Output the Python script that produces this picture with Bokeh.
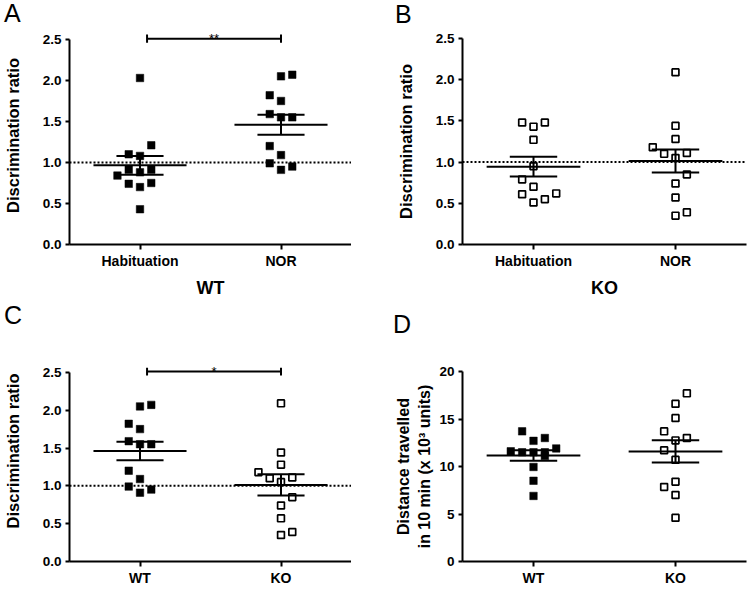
import numpy as np
from bokeh.plotting import figure
from bokeh.layouts import column, row
from bokeh.models import Range1d, FixedTicker, Span, PrintfTickFormatter, Div
from bokeh.embed import file_html
from bokeh.resources import INLINE

# ---------------- data ----------------
test_groups = ["Habituation", "NOR"]
genotypes = ["WT", "KO"]

wt_hab = [2.03, 1.10, 1.21, 1.08, 0.91, 0.88, 0.91, 0.84, 0.74, 0.75, 0.70, 0.43]
wt_hab_slot = [0, -1, 1, 0, -1, 0, 1, -2, -1, 1, 0, 0]
wt_nor = [2.05, 2.07, 1.82, 1.75, 1.59, 1.55, 1.55, 1.20, 1.09, 0.99, 0.91, 0.95]
wt_nor_slot = [0, 1, -1, 0, -1, 0, 1, -1, 0, -1, 0, 1]
ko_hab = [1.48, 1.43, 1.48, 1.27, 0.95, 0.79, 0.70, 0.61, 0.62, 0.55, 0.51]
ko_hab_slot = [-1, 0, 1, 0, 0, -1, 0, -1, 2, 1, 0]
ko_nor = [2.09, 1.44, 1.28, 1.18, 1.10, 1.11, 1.05, 0.85, 0.74, 0.57, 0.39, 0.35]
ko_nor_slot = [0, 0, 0, -2, -1, 1, 0, 1, 0, 0, 1, 0]
dist_wt = [13.7, 12.7, 13.0, 11.6, 11.5, 11.5, 11.5, 11.9, 11.1, 9.95, 8.5, 6.9]
dist_wt_slot = [-1, 0, 1, -2, -1, 0, 1, 2, 1, 0, 0, 0]
dist_ko = [17.7, 16.6, 15.1, 13.7, 13.0, 12.75, 11.7, 10.7, 8.4, 7.85, 7.0, 4.6]
dist_ko_slot = [1, 0, 0, -1, 1, 0, -1, 0, 0, -1, 0, 0]

ratio_ticks = [0.0, 0.5, 1.0, 1.5, 2.0, 2.5]
dist_ticks = [0, 5, 10, 15, 20]

FONT = "Liberation Sans"
SLOT = 0.08
MEAN_HALF = 0.33
SEM_HALF = 0.167


def letter_div(text, width, height, mtop, mleft):
    html = ('<div style="font-family:\'Liberation Sans\',Arial,sans-serif;font-size:25px;'
            'line-height:25px;color:black;margin:%dpx 0 0 %dpx;padding:0;">%s</div>'
            % (mtop, mleft, text))
    return Div(text=html, width=width, height=height, margin=0)


def make_panel(cats, series, y_end, axis_top, ticks, fmt, ylabel, ylabel_standoff,
               xlabel, width, height, borders, bracket=None, refline=True):
    p = figure(width=width, height=height, title=None, toolbar_location=None,
               output_backend="svg", x_range=Range1d(0.5, 2.5), y_range=Range1d(0, y_end),
               min_border_left=borders[0], min_border_right=borders[1],
               min_border_top=borders[2], min_border_bottom=borders[3])
    p.outline_line_color = None
    p.grid.visible = False
    p.background_fill_color = "white"

    p.xaxis.ticker = FixedTicker(ticks=[1, 2])
    p.xaxis.major_label_overrides = {1: cats[0], 2: cats[1]}
    p.yaxis.ticker = FixedTicker(ticks=ticks)
    if fmt:
        p.yaxis.formatter = PrintfTickFormatter(format=fmt)
    p.yaxis.bounds = (0, axis_top)
    for ax in (p.xaxis[0], p.yaxis[0]):
        ax.axis_line_width = 2
        ax.axis_line_color = "black"
        ax.major_tick_line_width = 2
        ax.major_tick_line_color = "black"
        ax.major_tick_in = 0
        ax.minor_tick_line_color = None
        ax.major_label_text_font = FONT
        ax.major_label_text_font_style = "bold"
        ax.major_label_text_color = "black"
        ax.axis_label_text_font = FONT
        ax.axis_label_text_font_style = "bold"
        ax.axis_label_text_color = "black"
    p.xaxis.major_tick_out = 5
    p.yaxis.major_tick_out = 4
    p.xaxis.major_label_standoff = 3
    p.yaxis.major_label_standoff = 4
    p.xaxis.major_label_text_font_size = "14px"
    p.yaxis.major_label_text_font_size = "13.5px"
    p.yaxis.axis_label = ylabel
    p.yaxis.axis_label_text_font_size = "16.5px" if "\n" not in ylabel else "16px"
    p.yaxis.axis_label_text_line_height = 1.25
    p.yaxis.axis_label_standoff = ylabel_standoff
    if xlabel:
        p.xaxis.axis_label = xlabel
        p.xaxis.axis_label_text_font_size = "18px"
        p.xaxis.axis_label_standoff = 6

    if refline:
        p.add_layout(Span(location=1.0, dimension="width", line_color="black",
                          line_width=2, line_dash="2 2", level="underlay"))

    for i, (vals, slots, filled) in enumerate(series):
        c = i + 1
        xs = [c + s * SLOT for s in slots]
        if filled:
            p.scatter(xs, vals, marker="square", size=7.5, fill_color="black",
                      line_color="black", line_width=0.5)
        else:
            p.scatter(xs, vals, marker="square", size=6.8, fill_color=None,
                      line_color="black", line_width=1.7)
        arr = np.asarray(vals, dtype=float)
        m = arr.mean()
        sem = arr.std(ddof=1) / np.sqrt(arr.size)
        p.segment(x0=[c - MEAN_HALF, c - SEM_HALF, c - SEM_HALF, c],
                  y0=[m, m + sem, m - sem, m - sem],
                  x1=[c + MEAN_HALF, c + SEM_HALF, c + SEM_HALF, c],
                  y1=[m, m + sem, m - sem, m + sem],
                  line_color="black", line_width=2)

    if bracket:
        text, yb, x_left, x_right = bracket
        p.segment(x0=[x_left, x_left, x_right], y0=[yb, yb - 0.05, yb - 0.05],
                  x1=[x_right, x_left, x_right], y1=[yb, yb + 0.05, yb + 0.05],
                  line_color="black", line_width=2)
        p.text(x=[(x_left + x_right) / 2], y=[yb + 0.005], text=[text],
               text_align="center", text_baseline="alphabetic",
               text_font_size="13px", text_color="black")
    return p


W_LEFT, W_RIGHT = 351, 397
TOP_DIV_H, TOP_FIG_H, MID_DIV_H, BOT_FIG_H = 26, 276, 38, 248

pA = make_panel(test_groups,
                [(wt_hab, wt_hab_slot, True), (wt_nor, wt_nor_slot, True)],
                2.658, 2.5, ratio_ticks, "%.1f", "Discrimination ratio", 18, "WT",
                W_LEFT, TOP_FIG_H, (68, 0, 0, 58), bracket=("**", 2.51, 1.05, 2.0))
pB = make_panel(test_groups,
                [(ko_hab, ko_hab_slot, False), (ko_nor, ko_nor_slot, False)],
                2.5, 2.5, ratio_ticks, "%.1f", "Discrimination ratio", 18, "KO",
                W_RIGHT, TOP_FIG_H, (111, 2, 12, 58))
pC = make_panel(genotypes,
                [(wt_nor, wt_nor_slot, True), (ko_nor, ko_nor_slot, False)],
                2.921, 2.5, ratio_ticks, "%.1f", "Discrimination ratio", 18, None,
                W_LEFT, BOT_FIG_H, (68, 0, 0, 26), bracket=("*", 2.51, 1.05, 2.0))
pD = make_panel(genotypes,
                [(dist_wt, dist_wt_slot, True), (dist_ko, dist_ko_slot, False)],
                20, 20, dist_ticks, None, "Distance travelled\nin 10 min (x 10\u00b3 units)", 3,
                None, W_RIGHT, BOT_FIG_H, (111, 2, 31, 26), refline=False)

dA = letter_div("A", W_LEFT, TOP_DIV_H, 1, 4)
dB = letter_div("B", W_RIGHT, TOP_DIV_H, 2, 44)
dC = letter_div("C", W_LEFT, MID_DIV_H, 1, 4)
dD = letter_div("D", W_RIGHT, MID_DIV_H, 10, 42)

layout = row(column(dA, pA, dC, pC), column(dB, pB, dD, pD))

with open("out.html", "w") as f:
    f.write(file_html(layout, INLINE))
